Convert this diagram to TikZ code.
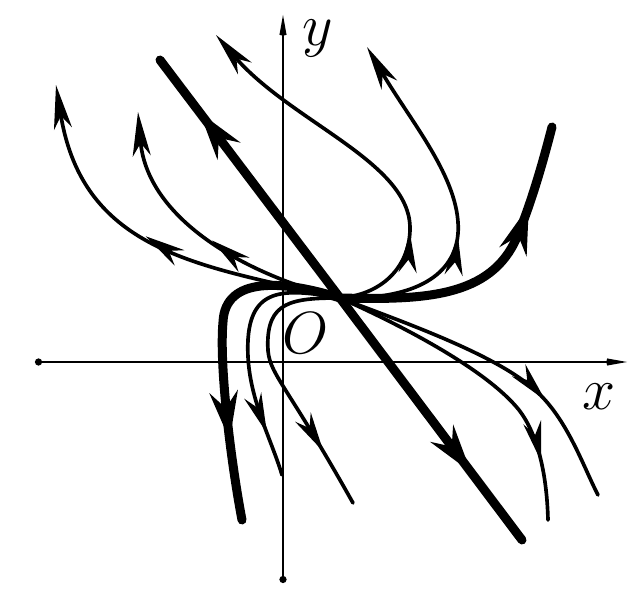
\documentclass[tikz,border=0pt]{standalone}
\usepackage{tikz}
\usetikzlibrary{arrows.meta,decorations.markings}
\tikzset{
    axis/.style={line width=1.8pt, {Circle[length=5pt]}-{Stealth[length=1.45cm,width=0.52cm,inset=1.05cm]}},
    orbit/.style={line width=2.6pt, line cap=round, line join=round},
    heavy/.style={line width=6.4pt, line cap=round, line join=round},
    endarrow/.style={-{Stealth[length=1.1cm,width=0.45cm,inset=0.32cm]}},
    midarrow/.style={postaction={decorate}, decoration={markings, mark=at position #1 with {\arrow{Stealth[length=1cm,width=0.45cm,inset=0.32cm]}}}},
    heavyarrow/.style={postaction={decorate}, decoration={markings, mark=at position #1 with {\arrow{Stealth[length=1.2cm,width=0.7cm,inset=0.4cm]}}}},
    axislabel/.style={inner sep=0pt, font=\Huge, scale=1.7, transform shape},
}

\begin{document}
\begin{tikzpicture}
    \useasboundingbox (-7.075,-6.2) rectangle (8.925,9.05);
    % Axes
    \coordinate (xl) at (-6.2,0);
    \coordinate (xr) at (8.6,0);
    \coordinate (yb) at (0,-5.525);
    \coordinate (yt) at (0,8.675);
    \draw[axis] (xl) -- (xr);
    \draw[axis] (yb) -- (yt);
    \node[axislabel] (xlab) at (7.9,-0.875) {$x$};
    \node[axislabel] (ylab) at (0.875,8.1) {$y$};
    \node[axislabel] (olab) at (0.575,0.725) {$O$};
    % Node point
    \coordinate (C) at (1.425,1.6);
    % Straight trajectory
    \coordinate (up) at (-3.075,7.55);
    \coordinate (dn) at (5.975,-4.45);
    \draw[heavy, heavyarrow=0.78] (C) -- (up);
    \draw[heavy, heavyarrow=0.72] (C) -- (dn);
    % Heavy curved trajectory
    \draw[heavy, heavyarrow=0.74] (C) .. controls (3.5,1.55) and (5.2,1.6) .. (5.85,3.125)
        .. controls (6.2,3.95) and (6.5,5.0) .. (6.725,5.875);
    \draw[heavy, heavyarrow=0.76] (C) .. controls (0,2.05) and (-1.45,2.15) .. (-1.5,1.0)
        .. controls (-1.6,-0.1) and (-1.3,-2.5) .. (-1.025,-3.95);
    % Upper trajectories
    \draw[orbit, endarrow, midarrow=0.53] (C) .. controls (-2,2.4) and (-5,2.7) .. (-5.675,6.925);
    \draw[orbit, endarrow, midarrow=0.48] (C) .. controls (-1,2.2) and (-3.4,3.6) .. (-3.625,6.25);
    \draw[orbit, endarrow, midarrow=0.27] (C) .. controls (2.6,1.7) and (3.18,2.5) .. (3.175,3.35)
        .. controls (3.17,5.0) and (0.2,6.0) .. (-1.675,8.175);
    \draw[orbit, endarrow, midarrow=0.41] (C) .. controls (3.5,1.55) and (4.35,2.3) .. (4.38,3.3)
        .. controls (4.41,4.6) and (3.2,6.0) .. (2.1,7.875);
    % Lower trajectories
    \draw[orbit, midarrow=0.83] (C) .. controls (0,1.85) and (-0.9,1.9) .. (-0.88,0.3)
        .. controls (-0.87,-0.9) and (-0.3,-1.9) .. (-0.025,-2.825);
    \draw[orbit, midarrow=0.79] (C) .. controls (0.2,1.6) and (-0.4,1.5) .. (-0.38,0.4)
        .. controls (-0.37,-0.3) and (0.0,-0.4) .. (1.75,-3.525);
    \draw[orbit, midarrow=0.68] (C) .. controls (3,1.0) and (5.3,0.2) .. (6.3,-0.7)
        .. controls (7.1,-1.4) and (7.5,-2.6) .. (7.875,-3.325);
    \draw[orbit, midarrow=0.82] (C) .. controls (3,0.9) and (5.1,-0.2) .. (5.9,-1.2)
        .. controls (6.4,-1.85) and (6.6,-2.9) .. (6.625,-3.95);
\end{tikzpicture}
\end{document}
